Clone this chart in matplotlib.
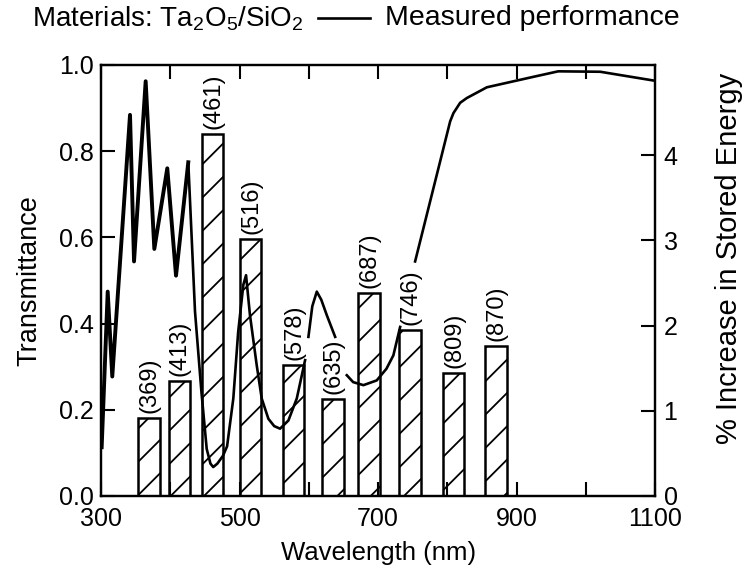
import matplotlib.pyplot as plt
import numpy as np
from matplotlib.lines import Line2D

plt.rcParams['font.family'] = ['Liberation Sans', 'DejaVu Sans']
plt.rcParams['mathtext.default'] = 'regular'
plt.rcParams['hatch.linewidth'] = 1.3

# Bars: % increase in stored energy at design wavelengths
bar_nm = [369, 413, 461, 516, 578, 635, 687, 746, 809, 870]
bar_val = [0.91, 1.35, 4.25, 3.02, 1.54, 1.14, 2.38, 1.95, 1.44, 1.76]
bar_labels = ['(369)', '(413)', '(461)', '(516)', '(578)', '(635)',
              '(687)', '(746)', '(809)', '(870)']

# Measured transmittance (curve pieces, broken where labels sit)
zig_nm = [301, 309.7, 316.3, 341.9, 347.7, 364.5, 377, 395.7, 408.3, 426]
zig_T = [0.113, 0.474, 0.277, 0.884, 0.544, 0.962, 0.573, 0.76, 0.511, 0.774]

dip_nm = [426, 435.7, 445, 452.6, 458, 462, 468, 476, 482, 491, 498, 505.5, 509.4,
          515, 524.8, 532, 541.6, 550, 558.5, 570.5, 582.6, 594.6]
dip_T = [0.774, 0.428, 0.241, 0.109, 0.075, 0.067, 0.075, 0.093, 0.115, 0.226, 0.38,
         0.49, 0.512, 0.42, 0.303, 0.226, 0.179, 0.162, 0.156, 0.175, 0.226, 0.315]

bump_nm = [599.4, 605, 611.5, 618, 626, 638]
bump_T = [0.369, 0.44, 0.474, 0.455, 0.419, 0.369]

bowl_nm = [654.8, 664, 678.8, 698, 712, 722, 731.8]
bowl_T = [0.28, 0.264, 0.257, 0.268, 0.295, 0.326, 0.392]

edge_nm = [753.4, 804, 808.7, 818.4, 828, 857, 929, 960, 1020.6, 1100]
edge_T = [0.544, 0.869, 0.888, 0.912, 0.923, 0.948, 0.974, 0.985, 0.984, 0.963]

fig = plt.figure(figsize=(7.48, 5.74), dpi=100)
ax = fig.add_axes([0.135, 0.136, 0.741, 0.751])
ax2 = ax.twinx()

ax2.bar(bar_nm, bar_val, width=31, facecolor='white', edgecolor='black',
        linewidth=1.8, hatch='/', zorder=2)
for xn, v, lab in zip(bar_nm, bar_val, bar_labels):
    ax2.text(xn + 1, v + 0.06, lab, rotation=90, ha='center', va='bottom',
             fontsize=17)

ax.set_zorder(ax2.get_zorder() + 1)
ax.patch.set_visible(False)
ax.plot(zig_nm, zig_T, color='black', lw=2.8)
ax.plot(dip_nm, dip_T, color='black', lw=1.9)
ax.plot(bump_nm, bump_T, color='black', lw=1.9)
ax.plot(bowl_nm, bowl_T, color='black', lw=1.9)
ax.plot(edge_nm, edge_T, color='black', lw=1.9)

ax.set_xlim(300, 1100)
ax.set_ylim(0, 1.0)
ax2.set_ylim(0, 5.06)
ax.set_xticks([300, 500, 700, 900, 1100])
ax.set_xticks([400, 600, 800, 1000], minor=True)
ax.set_yticks([0, 0.2, 0.4, 0.6, 0.8, 1.0])
ax.set_yticklabels(['0.0', '0.2', '0.4', '0.6', '0.8', '1.0'])
ax2.set_yticks([0, 1, 2, 3, 4])

ax.tick_params(axis='x', which='both', direction='in', top=True, length=10,
               width=1.5, labelsize=18, pad=8)
ax.tick_params(axis='y', direction='in', length=10, width=1.5, labelsize=18, pad=5)
ax2.tick_params(axis='y', direction='in', length=10, width=1.5, labelsize=18, pad=6)
for a in (ax, ax2):
    for s in a.spines.values():
        s.set_linewidth(1.6)

ax.set_xlabel('Wavelength (nm)', fontsize=18.5)
ax.xaxis.set_label_coords(0.5, -0.105)
ax.set_ylabel('Transmittance', fontsize=19.5)
ax.yaxis.set_label_coords(-0.106, 0.5)
ax2.set_ylabel('% Increase in Stored Energy', fontsize=21)
ax2.yaxis.set_label_coords(1.108, 0.55)

fig.text(32 / 748, 0.968, 'Materials: Ta$_2$O$_5$/SiO$_2$', fontsize=20, va='center')
fig.add_artist(Line2D([318 / 748, 370 / 748], [0.968, 0.968], color='black', lw=1.9,
                      transform=fig.transFigure))
fig.text(385 / 748, 0.968, 'Measured performance', fontsize=20.5, va='center')

fig.savefig('out.png', dpi=100)
